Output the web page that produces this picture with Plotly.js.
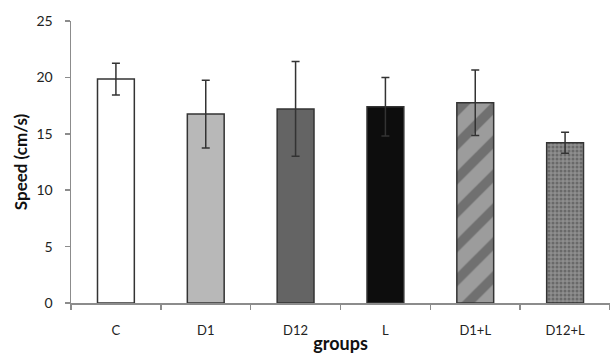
<!DOCTYPE html>
<html>
<head>
<meta charset="utf-8">
<script src="https://cdn.plot.ly/plotly-3.0.1.min.js"></script>
<style>html,body{margin:0;padding:0;background:#fff;}#chart{width:610px;height:356px;}</style>
</head>
<body>
<div id="chart"></div>
<script>
const groups = ["C", "D1", "D12", "L", "D1+L", "D12+L"];
const speed = [19.85, 16.75, 17.2, 17.4, 17.75, 14.2];
const speedErr = [1.4, 3.0, 4.2, 2.6, 2.9, 0.93];
const barColors = ["#ffffff", "#b8b8b8", "#646464", "#0d0d0d", "#9c9c9c", "#8e8e8e"];
const patternShapes = ["", "", "", "", "/", "."];
const patternFg = ["#ffffff", "#b8b8b8", "#646464", "#0d0d0d", "#d6d6d6", "#4a4a4a"];

const trace = {
  type: "bar",
  x: groups,
  y: speed,
  width: 0.41,
  marker: {
    color: barColors,
    line: {color: "#333333", width: 1.5},
    pattern: {
      shape: patternShapes,
      fgcolor: patternFg,
      bgcolor: barColors,
      size: [8, 8, 8, 8, 24, 4],
      solidity: [0.3, 0.3, 0.3, 0.3, 0.4, 0.45],
      fillmode: "overlay"
    }
  },
  error_y: {type: "data", array: speedErr, visible: true, color: "#333333", thickness: 1.5, width: 4},
  hoverinfo: "none"
};

const layout = {
  width: 610, height: 356,
  margin: {l: 71, r: 0, t: 21, b: 53},
  paper_bgcolor: "#ffffff", plot_bgcolor: "#ffffff",
  font: {family: "Lato, 'Open Sans', sans-serif", color: "#222222", size: 12},
  showlegend: false,
  bargap: 0.59,
  xaxis: {
    type: "category",
    range: [-0.5, 5.5],
    showline: true, linecolor: "#8c8c8c", linewidth: 1.5,
    ticks: "outside", tickson: "boundaries", ticklen: 5, tickcolor: "#8c8c8c", tickwidth: 1.5,
    ticklabelstandoff: 15,
    showgrid: false, zeroline: false,
    tickfont: {size: 13, color: "#222222"},
    title: {text: "<b>groups</b>", font: {size: 18, color: "#111111"}, standoff: 0}
  },
  yaxis: {
    range: [0, 25],
    tickvals: [0, 5, 10, 15, 20, 25],
    showline: true, linecolor: "#8c8c8c", linewidth: 1.5,
    ticks: "outside", ticklen: 5, tickcolor: "#8c8c8c", tickwidth: 1.5,
    ticklabelstandoff: 9,
    showgrid: false, zeroline: false,
    tickfont: {size: 14, color: "#222222"},
    title: {text: "<b>Speed (cm/s)</b>", font: {size: 17, color: "#111111"}, standoff: 4}
  }
};

Plotly.newPlot("chart", [trace], layout, {displayModeBar: false, staticPlot: true});
</script>
</body>
</html>
